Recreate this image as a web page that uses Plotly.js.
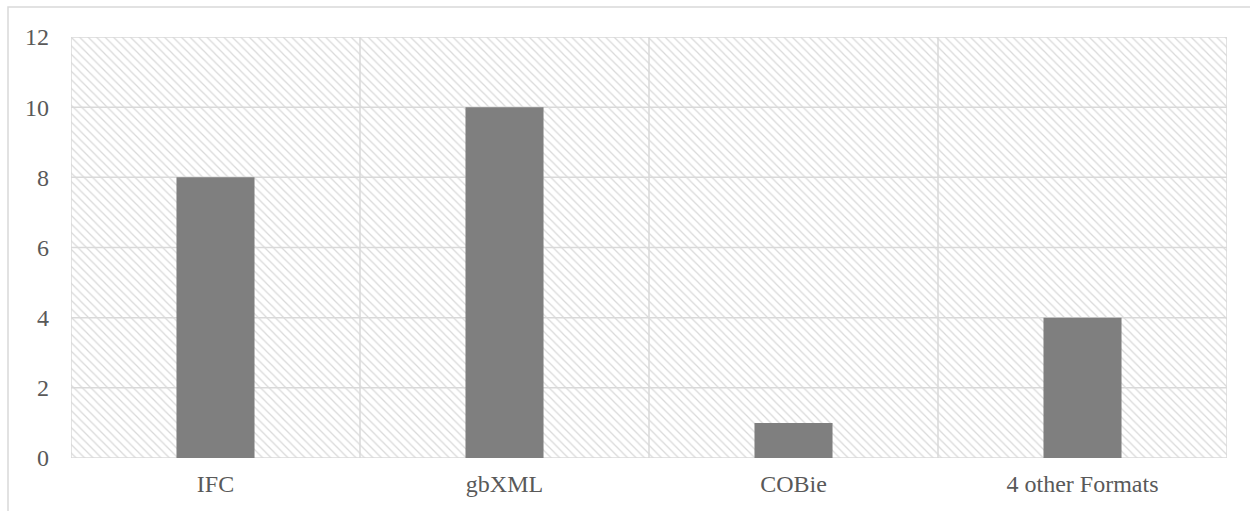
<!DOCTYPE html>
<html>
<head>
<meta charset="utf-8">
<script src="https://cdn.plot.ly/plotly-3.0.1.min.js"></script>
<style>html,body{margin:0;padding:0;background:#fff;}#chart{width:1250px;height:511px;}</style>
</head>
<body>
<div id="chart"></div>
<script>
// Data
const categories = ["IFC", "gbXML", "COBie", "4 other Formats"];
const counts = [8, 10, 1, 4];
const yTicks = [0, 2, 4, 6, 8, 10, 12];
const yMax = 12;
const categoryEdges = [-0.5, 0.5, 1.5, 2.5, 3.5];

const gridColor = '#d9d9d9';
const textColor = '#595959';
const font = 'Liberation Serif, Times New Roman, serif';

// gridline coordinates built from tick values
const gx = [], gy = [];
yTicks.forEach(t => { gx.push(categoryEdges[0], categoryEdges[categoryEdges.length-1], null); gy.push(t, t, null); });
categoryEdges.forEach(e => { gx.push(e, e, null); gy.push(0, yMax, null); });

const traces = [
  { // hatched plot-area background
    type: 'bar', x: [(categoryEdges[0]+categoryEdges[4])/2], y: [yMax], width: [categoryEdges[4]-categoryEdges[0]],
    xaxis: 'x', yaxis: 'y', hoverinfo: 'skip', showlegend: false,
    marker: { color: '#ffffff', line: {width: 0},
      pattern: { shape: '\\', fgcolor: '#d9d9d9', bgcolor: '#ffffff', size: 6, solidity: 0.2 } }
  },
  { // gridlines
    type: 'scatter', mode: 'lines', x: gx, y: gy, xaxis: 'x', yaxis: 'y',
    line: { color: gridColor, width: 1.5 }, hoverinfo: 'skip', showlegend: false, cliponaxis: false
  },
  { // data bars
    type: 'bar', x: categories, y: counts, xaxis: 'x2', yaxis: 'y', width: 0.27,
    marker: { color: '#7f7f7f', line: {width: 0} }, showlegend: false
  }
];

const L = 71, R = 23, T = 37, B = 53, W = 1250, H = 511;
const pw = W - L - R, ph = H - T - B;

const layout = {
  width: W, height: H,
  margin: { l: L, r: R, t: T, b: B, pad: 0 },
  paper_bgcolor: '#ffffff', plot_bgcolor: 'rgba(0,0,0,0)',
  showlegend: false,
  font: { family: font, color: textColor, size: 24 },
  xaxis: { range: [-0.5, 3.5], visible: false, fixedrange: true },
  xaxis2: { overlaying: 'x', anchor: 'y', type: 'category', categoryarray: categories,
    range: [-0.5, 3.5], showgrid: false, zeroline: false, showline: false, ticks: '',
    tickfont: { family: font, color: textColor, size: 24 }, ticklabelstandoff: 9 },
  yaxis: { range: [0, yMax], tickvals: yTicks, showgrid: false, zeroline: false, showline: false,
    ticks: '', tickfont: { family: font, color: textColor, size: 24 }, ticklabelstandoff: 21 },
  shapes: [
    { type: 'rect', xref: 'paper', yref: 'paper',
      x0: (8 - L) / pw, x1: (W + 20 - L) / pw, y0: -(H + 20 - (H - B)) / ph, y1: (H - B - 7) / ph,
      line: { color: gridColor, width: 1.5 }, fillcolor: 'rgba(0,0,0,0)', layer: 'below' }
  ]
};

Plotly.newPlot('chart', traces, layout, { displayModeBar: false, staticPlot: true });
</script>
</body>
</html>
